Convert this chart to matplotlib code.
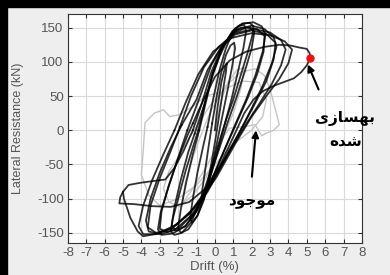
import matplotlib
matplotlib.use("Agg")
import matplotlib.pyplot as plt
from matplotlib.patches import Rectangle
import numpy as np

plt.rcParams["font.family"] = ["Liberation Sans", "DejaVu Sans"]
plt.rcParams["axes.unicode_minus"] = False

## retrofitted specimen (black), hand-read cycles: (drift %, kN)
black_cycles = [
    [(0, 0), (0.15, 35), (0.35, 70), (0.55, 92), (0.65, 98), (0.6, 85), (0.45, 60), (0.25, 25),
     (0.05, -10), (-0.2, -50), (-0.45, -85), (-0.65, -100), (-0.75, -104), (-0.7, -90),
     (-0.55, -62), (-0.35, -25), (-0.15, 10)],
    [(-0.15, 10), (0.1, 50), (0.35, 85), (0.6, 110), (0.85, 124), (1.05, 128), (1.1, 120),
     (0.95, 95), (0.7, 60), (0.4, 20), (0.1, -20), (-0.25, -65), (-0.6, -102), (-0.95, -125),
     (-1.25, -135), (-1.35, -128), (-1.2, -100), (-0.95, -62), (-0.65, -25), (-0.4, 5)],
    [(-0.4, 5), (-0.1, 45), (0.25, 88), (0.6, 120), (0.95, 142), (1.3, 153), (1.6, 154),
     (1.7, 145), (1.55, 120), (1.25, 85), (0.9, 45), (0.5, 5), (0.05, -40), (-0.45, -88),
     (-0.95, -125), (-1.45, -145), (-1.85, -150), (-2.0, -143), (-1.85, -115), (-1.55, -75),
     (-1.2, -35), (-0.85, 0)],
    [(-0.85, 0), (-0.5, 40), (-0.15, 78), (0.25, 108), (0.7, 133), (1.1, 149), (1.5, 156),
     (1.9, 157), (2.1, 152), (2.05, 140), (1.8, 115), (1.4, 80), (1.0, 45), (0.6, 15), (0.2, -20),
     (-0.3, -65), (-0.8, -105), (-1.3, -135), (-1.8, -150), (-2.2, -153), (-2.4, -148),
     (-2.3, -130), (-2.0, -100), (-1.6, -60), (-1.2, -25), (-0.9, 0)],
    [(-0.9, 0), (-0.5, 45), (-0.1, 85), (0.35, 118), (0.85, 140), (1.4, 150), (1.9, 151),
     (2.15, 144), (2.0, 120), (1.65, 88), (1.2, 50), (0.7, 12), (0.2, -30), (-0.4, -78),
     (-1.0, -118), (-1.6, -140), (-2.1, -147), (-2.35, -140), (-2.2, -112), (-1.85, -72),
     (-1.45, -32), (-1.1, -5)],
    [(-1.1, -5), (-0.55, 40), (-0.1, 85), (0.4, 120), (0.95, 145), (1.5, 156), (2.1, 158),
     (2.55, 152), (2.75, 140), (2.6, 115), (2.2, 80), (1.7, 45), (1.1, 8), (0.5, -30),
     (-0.2, -75), (-0.9, -115), (-1.6, -140), (-2.3, -151), (-2.9, -153), (-3.1, -145),
     (-2.95, -120), (-2.55, -85), (-2.05, -45), (-1.5, -8), (-1.2, 10)],
    [(-1.2, 10), (-0.7, 40), (-0.2, 85), (0.4, 122), (1.0, 142), (1.7, 150), (2.3, 148),
     (2.7, 138), (2.65, 115), (2.3, 82), (1.8, 48), (1.2, 12), (0.5, -30), (-0.3, -80),
     (-1.1, -120), (-1.9, -142), (-2.6, -149), (-3.0, -144), (-2.9, -118), (-2.5, -80),
     (-2.0, -40), (-1.5, 0)],
    [(-1.5, 0), (-0.8, 50), (-0.2, 95), (0.5, 128), (1.2, 147), (2.0, 153), (2.7, 148),
     (3.2, 136), (3.35, 122), (3.1, 98), (2.6, 65), (2.0, 32), (1.3, -5), (0.5, -45), (-0.4, -90),
     (-1.3, -125), (-2.2, -146), (-3.0, -152), (-3.6, -148), (-3.75, -132), (-3.5, -100),
     (-3.0, -62), (-2.4, -25), (-1.8, 8)],
    [(-1.8, 8), (-1.0, 45), (-0.4, 88), (0.3, 120), (1.1, 140), (2.0, 146), (2.8, 141),
     (3.3, 128), (3.2, 104), (2.8, 72), (2.2, 40), (1.5, 5), (0.6, -38), (-0.4, -85),
     (-1.4, -122), (-2.4, -144), (-3.2, -150), (-3.65, -142), (-3.5, -110), (-3.0, -70),
     (-2.4, -30), (-1.9, 5)],
    [(-1.9, 5), (-1.3, 50), (-0.6, 92), (0.2, 122), (1.1, 142), (2.1, 148), (3.0, 143),
     (3.6, 132), (3.85, 118), (3.6, 95), (3.1, 68), (2.4, 38), (1.6, 5), (0.7, -35), (-0.3, -82),
     (-1.3, -120), (-2.3, -143), (-3.2, -152), (-3.9, -152), (-4.15, -140), (-3.9, -110),
     (-3.4, -72), (-2.8, -35), (-2.2, 0)],
    [(-2.2, 0), (-1.6, 40), (-0.9, 82), (-0.1, 115), (0.9, 135), (2.0, 142), (3.0, 139),
     (3.8, 130), (4.2, 118), (4.0, 98), (3.5, 75), (2.8, 50), (2.0, 20), (1.1, -20), (0.1, -68),
     (-1.0, -110), (-2.1, -138), (-3.1, -151), (-3.9, -155), (-4.2, -148), (-4.6, -128),
     (-4.95, -100), (-5.0, -90), (-4.7, -80), (-4.1, -77), (-3.3, -74), (-2.7, -72), (-2.2, -55),
     (-1.7, -30), (-1.2, 0)],
    [(-1.2, 0), (-0.7, 40), (0, 78), (0.8, 102), (1.7, 115), (2.7, 122), (3.5, 125), (4.1, 124),
     (4.6, 121), (5.0, 119), (5.15, 113), (5.2, 106), (5.0, 95), (4.7, 85), (4.3, 76), (3.8, 71),
     (3.2, 65), (2.6, 57), (2.1, 45), (1.6, 25), (1.0, -10), (0.3, -50), (-0.5, -85),
     (-1.4, -105), (-2.4, -112), (-3.4, -111), (-4.4, -108), (-5.2, -107), (-5.15, -98),
     (-5.0, -90)],
]

## existing specimen (gray)
gray_cycles = [
    [(0, 0), (0.3, 40), (0.7, 70), (1.2, 88), (1.6, 92), (1.4, 60), (1.0, 25), (0.6, 0), (0.1, -35),
     (-0.5, -70), (-1.2, -95), (-1.8, -108), (-1.6, -75), (-1.2, -40), (-0.8, -10)],
    [(-0.8, -10), (-0.2, 30), (0.6, 65), (1.4, 85), (2.2, 90), (2.7, 80), (3.0, 60), (3.3, 30),
     (3.5, 8), (3.2, 0), (2.9, -3), (2.55, -8), (2.2, 8), (1.5, 5), (0.8, 3), (0.2, -20),
     (-0.5, -55), (-1.2, -85), (-1.9, -112), (-2.5, -105), (-2.8, -85), (-2.5, -60), (-2.0, -40),
     (-1.5, -15), (-1.0, 5)],
    [(-1.0, 5), (-0.3, 35), (0.5, 60), (1.5, 72), (2.4, 70), (2.8, 45), (2.6, 20), (2.0, 0),
     (1.0, -20), (0, -50), (-1.0, -80), (-2.0, -100), (-3.0, -110), (-3.6, -95), (-4.0, -65),
     (-3.9, -30), (-3.8, 11), (-3.3, 25), (-2.8, 30), (-2.45, 20), (-1.9, 23), (-1.2, 35),
     (-0.5, 50), (0.2, 55)],
]

x_ticks = list(range(-8, 9))
y_ticks = [-150, -100, -50, 0, 50, 100, 150]
red_point = (5.2, 106)

# "بهسازی شده" and "موجود" written in visual (presentation) forms
label_retrofit = "\ufbfc\ufeaf\ufe8e\ufeb4\ufeec\ufe91\n\ufee9\ufeaa\ufeb7"
label_existing = "\ufea9\ufeee\ufe9f\ufeee\ufee3"

fig = plt.figure(figsize=(3.9, 2.75), dpi=100)
fig.patch.set_facecolor("#eeeeee")
ax = fig.add_axes([0.174, 0.116, 0.754, 0.833])
ax.set_facecolor("white")

for cyc in gray_cycles:
    pts = np.array(cyc)
    ax.plot(pts[:, 0], pts[:, 1], color="#c4c4c4", lw=1.0, zorder=2)
for cyc in black_cycles:
    pts = np.array(cyc)
    ax.plot(pts[:, 0], pts[:, 1], color="black", lw=1.3, alpha=0.8, zorder=3)
ax.plot(*red_point, "o", color="#ee1111", ms=5, zorder=4)

ax.set_xlim(-8, 8)
ax.set_ylim(-165, 170)
ax.set_xticks(x_ticks)
ax.set_yticks(y_ticks)
ax.grid(True, color="#d9d9d9", lw=0.8)
ax.set_axisbelow(True)
ax.tick_params(direction="in", length=3, top=True, right=True, labelsize=9.5,
               colors="#333333", labelcolor="#555555", pad=3)
for s in ax.spines.values():
    s.set_color("#333333")
    s.set_linewidth(0.8)
ax.set_xlabel("Drift (%)", fontsize=9.5, color="#555555", labelpad=1)
ax.set_ylabel("Lateral Resistance (kN)", fontsize=9, color="#555555", labelpad=9)

ax.annotate("", xy=(5.0, 100), xytext=(5.7, 56),
            arrowprops=dict(arrowstyle="-|>", color="black", lw=1.5, mutation_scale=10))
ax.text(7.1, 0, label_retrofit, fontsize=11, fontweight="bold", family="DejaVu Sans",
        ha="center", va="center", linespacing=1.7)
ax.annotate("", xy=(2.25, 4), xytext=(2.0, -72),
            arrowprops=dict(arrowstyle="-|>", color="black", lw=1.5, mutation_scale=10))
ax.text(2.0, -102, label_existing, fontsize=11, fontweight="bold", family="DejaVu Sans",
        ha="center", va="center")

# black frame edges of the screenshot
fig.add_artist(Rectangle((0, 0), 0.018, 1, transform=fig.transFigure, color="black"))
fig.add_artist(Rectangle((0, 0.975), 1, 0.025, transform=fig.transFigure, color="black"))

fig.savefig("out.png", dpi=100)
